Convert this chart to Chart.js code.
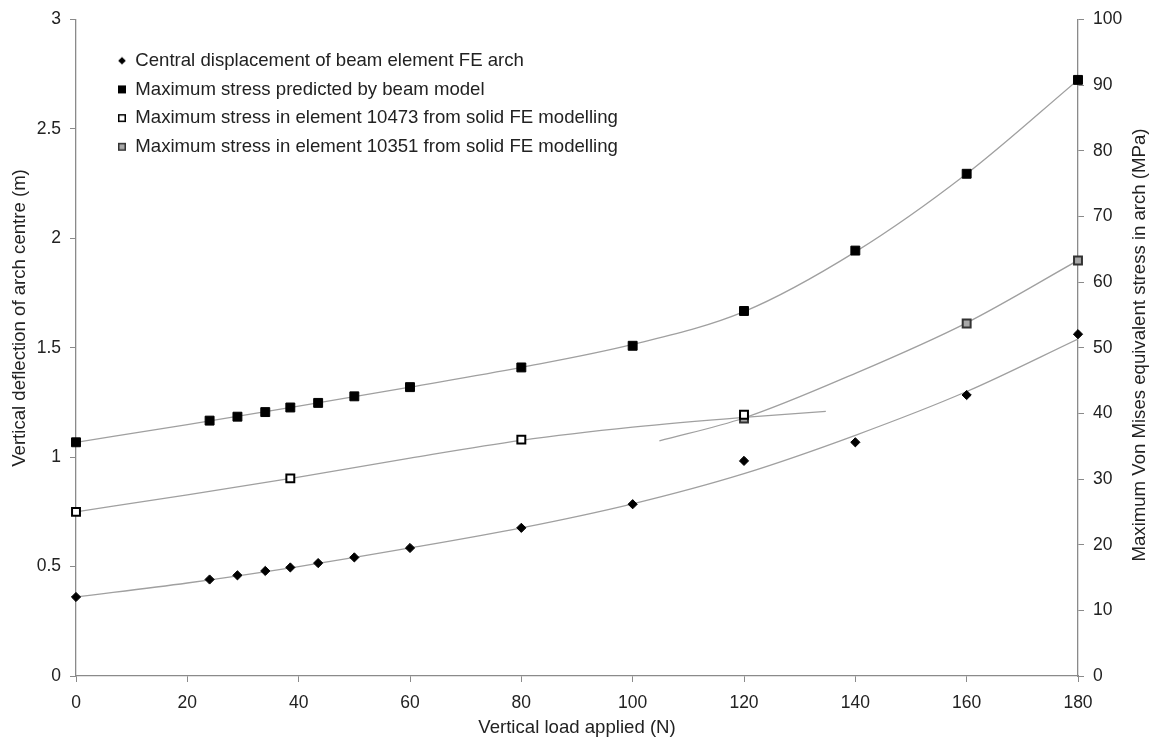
<!DOCTYPE html>
<html>
<head>
<meta charset="utf-8">
<title>Arch load test</title>
<script src="https://cdn.jsdelivr.net/npm/chart.js@4.4.1/dist/chart.umd.min.js"></script>
<style>
  html, body { margin: 0; padding: 0; background: #fff; }
  #wrap { width: 1154px; height: 742px; }
</style>
</head>
<body>
<div id="wrap"><canvas id="archChart" width="1154" height="742"></canvas></div>
<script>
// --- data ---
const loads = [0, 24, 29, 34, 38.5, 43.5, 50, 60, 80, 100, 120, 140, 160, 180];
const deflection = [0.361, 0.441, 0.460, 0.480, 0.496, 0.516, 0.542, 0.585, 0.677, 0.785, 0.983, 1.068, 1.284, 1.562];
const beamStress = [35.6, 38.9, 39.5, 40.2, 40.9, 41.6, 42.6, 44.0, 47.0, 50.3, 55.6, 64.8, 76.5, 90.8];

const loads10473 = [0, 38.5, 80, 120];
const stress10473 = [25.0, 30.1, 36.0, 39.8];
const loads10351 = [120, 160, 180];
const stress10351 = [39.2, 53.7, 63.3];

// grey trend curves, read at these loads
const trendLoads = [0, 20, 40, 60, 80, 100, 120, 140, 160, 180];
const deflectionTrend = [0.361, 0.425, 0.500, 0.585, 0.677, 0.787, 0.925, 1.10, 1.30, 1.54];
const beamTrend = [35.6, 38.3, 41.1, 44.0, 47.0, 50.5, 55.5, 64.6, 76.5, 90.8];
const trend10473Loads = [0, 20, 40, 60, 80, 100, 120, 134.7];
const trend10473 = [25.0, 27.6, 30.3, 33.2, 35.9, 37.9, 39.4, 40.3];
const trend10351Loads = [104.8, 120, 140, 160, 180];
const trend10351 = [35.8, 39.3, 46.1, 53.8, 63.3];

const loadTicks = [0, 20, 40, 60, 80, 100, 120, 140, 160, 180];
const deflectionTicks = [0, 0.5, 1, 1.5, 2, 2.5, 3];
const stressTicks = [0, 10, 20, 30, 40, 50, 60, 70, 80, 90, 100];

const seriesNames = [
    'Central displacement of beam element FE arch',
    'Maximum stress predicted by beam model',
    'Maximum stress in element 10473 from solid FE modelling',
    'Maximum stress in element 10351 from solid FE modelling'
];
const leftTitle = 'Vertical deflection of arch centre (m)';
const rightTitle = 'Maximum Von Mises equivalent stress in arch (MPa)';
const bottomTitle = 'Vertical load applied (N)';

// --- helpers ---
const FONT = "'Liberation Sans', Arial, sans-serif";
const TEXT = '#222';
const AXIS = '#8a8a8a';
const TREND = '#a0a0a0';

const pts = (xs, ys) => xs.map((x, i) => ({ x: x, y: ys[i] }));

function legendMarker(shape, fill, stroke) {
    const c = document.createElement('canvas');
    c.width = 10; c.height = 10;
    const g = c.getContext('2d');
    g.fillStyle = fill;
    g.strokeStyle = stroke;
    g.lineWidth = 1.5;
    if (shape === 'diamond') {
        g.beginPath();
        g.moveTo(5, 1.2); g.lineTo(8.8, 5); g.lineTo(5, 8.8); g.lineTo(1.2, 5);
        g.closePath(); g.fill();
    } else if (shape === 'solid') {
        g.fillRect(1, 1, 8, 8);
    } else {
        g.fillRect(1.75, 1.75, 6.5, 6.5);
        g.strokeRect(1.75, 1.75, 6.5, 6.5);
    }
    return c;
}

const legendMarkers = [
    legendMarker('diamond', '#000', '#000'),
    legendMarker('solid', '#000', '#000'),
    legendMarker('open', '#fff', '#000'),
    legendMarker('open', '#a8a8a8', '#333')
];

function trendSet(xs, ys, axis) {
    return {
        label: 'trend',
        data: pts(xs, ys),
        yAxisID: axis,
        showLine: true,
        borderColor: TREND,
        borderWidth: 1.3,
        pointRadius: 0,
        cubicInterpolationMode: 'monotone',
        fill: false
    };
}

// legend moved into the plot; both y titles read bottom-to-top
const extras = {
    id: 'extras',
    afterLayout(chart) {
        const lg = chart.legend;
        if (lg) {
            lg.left = 107.9; lg.right = lg.left + lg.width;
            lg.top = 41.3; lg.bottom = lg.top + lg.height;
        }
    },
    afterDraw(chart) {
        const { ctx, chartArea } = chart;
        const vertical = (text, x, y) => {
            ctx.save();
            ctx.translate(x, y);
            ctx.rotate(-Math.PI / 2);
            ctx.font = '18.6px ' + FONT;
            ctx.fillStyle = TEXT;
            ctx.textAlign = 'center';
            ctx.textBaseline = 'middle';
            ctx.fillText(text, 0, 0);
            ctx.restore();
        };
        vertical(leftTitle, 20, 318);
        vertical(rightTitle, 1140, 345);
    }
};

function fixedTicks(values) {
    return scale => { scale.ticks = values.map(v => ({ value: v })); };
}

const tickFont = { family: FONT, size: 17.5 };

new Chart(document.getElementById('archChart'), {
    type: 'scatter',
    data: {
        datasets: [
            {
                label: seriesNames[0],
                data: pts(loads, deflection),
                yAxisID: 'yLeft',
                pointStyle: 'rectRot',
                pointRadius: 4.6,
                backgroundColor: '#000',
                borderColor: '#000',
                borderWidth: 1,
                clip: false
            },
            {
                label: seriesNames[1],
                data: pts(loads, beamStress),
                yAxisID: 'yRight',
                pointStyle: 'rect',
                pointRadius: 6.3,
                backgroundColor: '#000',
                borderColor: '#000',
                borderWidth: 1,
                clip: false
            },
            {
                label: seriesNames[2],
                data: pts(loads10473, stress10473),
                yAxisID: 'yRight',
                pointStyle: 'rect',
                pointRadius: 5.6,
                backgroundColor: '#fff',
                borderColor: '#000',
                borderWidth: 2,
                clip: false
            },
            {
                label: seriesNames[3],
                data: pts(loads10351, stress10351),
                yAxisID: 'yRight',
                pointStyle: 'rect',
                pointRadius: 5.6,
                backgroundColor: '#a8a8a8',
                borderColor: '#333',
                borderWidth: 2,
                clip: false
            },
            trendSet(trendLoads, deflectionTrend, 'yLeft'),
            trendSet(trendLoads, beamTrend, 'yRight'),
            trendSet(trend10473Loads, trend10473, 'yRight'),
            trendSet(trend10351Loads, trend10351, 'yRight')
        ]
    },
    options: {
        responsive: false,
        animation: false,
        devicePixelRatio: 1,
        layout: { padding: { top: 19, right: 0, bottom: 0, left: 0 } },
        plugins: {
            tooltip: { enabled: false },
            legend: {
                position: 'chartArea',
                align: 'start',
                labels: {
                    usePointStyle: true,
                    boxWidth: 8,
                    boxHeight: 8,
                    padding: 10.1,
                    color: TEXT,
                    font: { family: FONT, size: 18.6 },
                    generateLabels(chart) {
                        const items = Chart.defaults.plugins.legend.labels.generateLabels(chart);
                        return items.filter(it => it.datasetIndex < 4).map(it => {
                            it.pointStyle = legendMarkers[it.datasetIndex];
                            return it;
                        });
                    }
                }
            }
        },
        scales: {
            x: {
                type: 'linear',
                position: 'bottom',
                min: 0,
                max: 180,
                afterBuildTicks: fixedTicks(loadTicks),
                afterFit: s => { s.height = 66; },
                grid: { drawOnChartArea: false, tickLength: 6, color: AXIS },
                border: { color: AXIS, width: 1.3 },
                ticks: { color: TEXT, font: tickFont, padding: 11, maxRotation: 0 },
                title: { display: true, text: bottomTitle, color: TEXT, font: { family: FONT, size: 18.6 }, padding: { top: 0, bottom: 2.5 } }
            },
            yLeft: {
                type: 'linear',
                position: 'left',
                min: 0,
                max: 3,
                afterBuildTicks: fixedTicks(deflectionTicks),
                afterFit: s => { s.width = 76; },
                grid: { drawOnChartArea: false, tickLength: 6, color: AXIS },
                border: { color: AXIS, width: 1.3 },
                ticks: { color: TEXT, font: tickFont, padding: 9, callback: v => String(v) }
            },
            yRight: {
                type: 'linear',
                position: 'right',
                min: 0,
                max: 100,
                afterBuildTicks: fixedTicks(stressTicks),
                afterFit: s => { s.width = 76; },
                grid: { drawOnChartArea: false, tickLength: 6, color: AXIS },
                border: { color: AXIS, width: 1.3 },
                ticks: { color: TEXT, font: tickFont, padding: 9, callback: v => String(v) }
            }
        }
    },
    plugins: [extras]
});
</script>
</body>
</html>
